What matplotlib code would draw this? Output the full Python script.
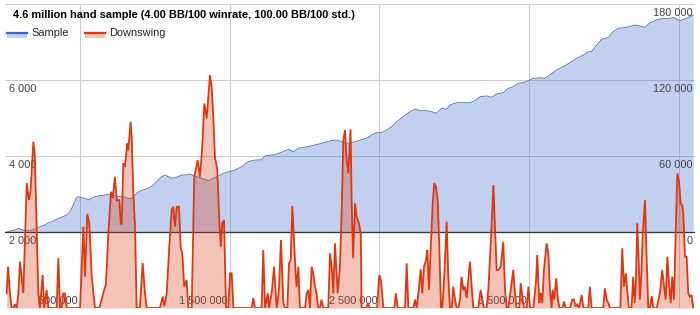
import matplotlib
matplotlib.use("Agg")
import matplotlib.pyplot as plt
from matplotlib.patches import Rectangle
from matplotlib.lines import Line2D

plt.rcParams['font.family'] = ['Liberation Sans', 'DejaVu Sans']

title = "4.6 million hand sample (4.00 BB/100 winrate, 100.00 BB/100 std.)"

# cumulative winnings (BB) vs hands played (thousands)
sample_k = [10, 65, 88, 132, 177, 210, 232, 266, 288, 311, 333, 355, 388, 411, 433, 455, 473, 488,
            511, 533, 555, 578, 600, 633, 667, 689, 711, 755, 789, 822, 845, 878, 900, 934, 956, 989,
            1012, 1045, 1067, 1090, 1112, 1146, 1179, 1212, 1235, 1268, 1313, 1357, 1390, 1424, 1457,
            1490, 1535, 1580, 1624, 1669, 1713, 1736, 1769, 1803, 1825, 1858, 1891, 1925, 1958, 1991,
            2025, 2069, 2114, 2148, 2181, 2214, 2248, 2292, 2337, 2370, 2415, 2448, 2482, 2515, 2548,
            2582, 2615, 2659, 2704, 2737, 2771, 2816, 2849, 2882, 2916, 2949, 2971, 3016, 3060, 3105,
            3138, 3172, 3216, 3250, 3283, 3327, 3361, 3394, 3428, 3461, 3495, 3528, 3572, 3605, 3639,
            3683, 3728, 3773, 3818, 3862, 3895, 3917, 3951, 3984, 4029, 4062, 4096, 4152, 4207, 4240,
            4274, 4307, 4352, 4396, 4441, 4463, 4508, 4552, 4596]
sample_bb = [0, 1580, 2900, 1030, 1500, 2900, 4200, 5500, 7350, 8100, 9500, 10800, 12100, 13400,
             16000, 21300, 26600, 27900, 27100, 26600, 25300, 26600, 27900, 28700, 29200, 30000,
             29200, 27900, 27900, 26600, 26600, 30500, 32400, 33700, 34500, 37100, 39700, 43700,
             45000, 43700, 42400, 43200, 45000, 45000, 45800, 44000, 42400, 40500, 42400, 44200,
             46300, 47600, 48900, 51600, 55500, 56800, 57000, 60000, 60800, 60800, 62100, 63400,
             65300, 63400, 66100, 66800, 67400, 68700, 70000, 71300, 72100, 72600, 71300, 70000,
             71300, 72600, 74000, 76600, 78400, 78400, 80500, 83100, 87100, 91000, 95000, 96900,
             95800, 95800, 95000, 93700, 97700, 96900, 100300, 102100, 102100, 102100, 103700,
             106800, 107400, 106300, 109000, 110000, 113400, 114700, 117400, 117900, 119500,
             121300, 121800, 121300, 124000, 127900, 130500, 133700, 137100, 139700, 142300,
             142300, 147600, 152100, 153700, 158100, 160800, 161600, 163400, 162600, 161600,
             165200, 167400, 168700, 168700, 169500, 166800, 168700, 171300]

# downswing depth (BB) vs hands played (thousands)
down = [(10, 385), (19, 1087), (32, 385), (43, 0), (55, 0), (65, 100), (77, 0), (88, 385), (99, 1218),
        (110, 800), (121, 395), (144, 3288), (159, 2840), (170, 3100), (188, 4374), (197, 4067),
        (210, 2140), (221, 385), (232, 0), (250, 868), (261, 0), (277, 473), (288, 0), (344, 0),
        (355, 1315), (366, 0), (377, 0), (388, 385), (399, 385), (411, 0), (500, 0), (522, 2140),
        (533, 823), (548, 2472), (562, 2228), (578, 823), (600, 0), (629, 0), (655, 385), (673, 631),
        (689, 1965), (707, 3060), (718, 2885), (733, 3455), (745, 2840), (762, 2840), (772, 2228),
        (778, 2200), (789, 3805), (800, 3717), (816, 4330), (822, 4155), (838, 4900), (845, 4506),
        (856, 3017), (867, 2140), (878, 0), (900, 0), (918, 1183), (934, 385), (945, 0), (1034, 0),
        (1052, 300), (1063, 50), (1079, 385), (1096, 1613), (1112, 2577), (1123, 2665), (1134, 2140),
        (1146, 2665), (1161, 2665), (1172, 1613), (1183, 1438), (1196, 561), (1212, 736), (1223, 0),
        (1246, 0), (1263, 3455), (1286, 3892), (1301, 3455), (1315, 4155), (1330, 5383), (1346, 4990),
        (1368, 6128), (1379, 5820), (1390, 5032), (1401, 3980), (1417, 3630), (1430, 2315),
        (1440, 1613), (1450, 2228), (1462, 2315), (1475, 0), (1490, 0), (1502, 912), (1513, 912),
        (1524, 0), (1647, 0), (1657, 263), (1669, 0), (1713, 0), (1724, 1525), (1736, 0), (1754, 385),
        (1762, 0), (1780, 385), (1796, 1087), (1807, 385), (1814, 0), (1829, 500), (1842, 1788),
        (1858, 130), (1869, 0), (1885, 0), (1896, 1175), (1907, 1260), (1918, 2683), (1929, 1788),
        (1940, 912), (1947, 561), (1958, 1087), (1969, 0), (2003, 0), (2014, 385), (2025, 473),
        (2036, 0), (2047, 1087), (2058, 912), (2069, 561), (2080, 385), (2091, 0), (2102, 0),
        (2113, 220), (2124, 0), (2158, 0), (2170, 1438), (2181, 1087), (2192, 385), (2203, 1700),
        (2221, 385), (2236, 1087), (2248, 2577), (2259, 4418), (2270, 4681), (2281, 3892),
        (2292, 3542), (2307, 4700), (2315, 2665), (2324, 1307), (2337, 2753), (2348, 2400),
        (2363, 2228), (2375, 1965), (2381, 0), (2412, 0), (2423, 130), (2435, 0), (2484, 0),
        (2499, 868), (2510, 736), (2526, 0), (2599, 0), (2610, 385), (2622, 0), (2671, 0),
        (2682, 1175), (2693, 0), (2726, 0), (2738, 220), (2749, 0), (2760, 385), (2776, 1017),
        (2786, 385), (2798, 1087), (2811, 1263), (2820, 1525), (2831, 473), (2842, 1525),
        (2856, 2753), (2866, 3279), (2878, 3190), (2889, 2840), (2900, 1613), (2911, 0), (2920, 0),
        (2933, 823), (2949, 2270), (2960, 823), (2971, 0), (2983, 0), (2993, 561), (3005, 220),
        (3016, 0), (3027, 0), (3038, 220), (3049, 823), (3060, 473), (3071, 561), (3083, 263),
        (3093, 736), (3105, 1218), (3116, 561), (3127, 0), (3160, 0), (3176, 473), (3190, 130),
        (3198, 0), (3216, 0), (3227, 473), (3238, 1263), (3250, 2228), (3261, 3235), (3272, 2140),
        (3283, 1000), (3294, 1000), (3310, 1087), (3327, 1745), (3339, 473), (3350, 0), (3361, 0),
        (3377, 473), (3394, 1000), (3405, 385), (3416, 0), (3434, 0), (3444, 650), (3457, 220),
        (3466, 0), (3484, 0), (3495, 561), (3506, 0), (3528, 0), (3546, 700), (3554, 1394),
        (3568, 130), (3577, 400), (3588, 130), (3599, 1000), (3617, 1700), (3628, 1440), (3639, 480),
        (3650, 0), (3657, 480), (3668, 220), (3681, 780), (3692, 220), (3703, 0), (3724, 0),
        (3733, 170), (3744, 0), (3773, 0), (3788, 220), (3800, 220), (3810, 40), (3821, 90),
        (3834, 0), (3851, 342), (3862, 0), (3895, 0), (3906, 561), (3917, 0), (3995, 0), (4006, 518),
        (4018, 220), (4029, 130), (4040, 0), (4109, 0), (4122, 1570), (4133, 561), (4146, 912),
        (4155, 480), (4166, 0), (4184, 0), (4195, 823), (4205, 130), (4213, 660), (4222, 2228),
        (4231, 1350), (4240, 220), (4250, 912), (4259, 1960), (4274, 2840), (4285, 1270), (4296, 0),
        (4307, 0), (4319, 310), (4329, 0), (4352, 0), (4374, 400), (4389, 1000), (4401, 570),
        (4412, 220), (4423, 1350), (4434, 660), (4446, 130), (4456, 823), (4468, 220), (4479, 2000),
        (4490, 3542), (4501, 3330), (4512, 2753), (4523, 2700), (4530, 2490), (4541, 1350),
        (4552, 1350), (4563, 385), (4574, 300), (4585, 340), (4596, 0)]
down_k = [d[0] for d in down]
down_bb = [d[1] for d in down]

x_ticks = [500000, 1500000, 2500000, 3500000]
x_grid = [500000, 1500000, 2500000, 3500000, 4500000]
left_ticks = [2000, 4000, 6000]
right_ticks = [0, 60000, 120000, 180000]

blue = '#3366cc'
red = '#dc3912'
txt = '#444444'
fs = 7.9


def fmt(v):
    return f"{v:,}".replace(',', ' ')


fig = plt.figure(figsize=(7, 3.15), dpi=100)
ax = fig.add_axes([5.2 / 700, 7 / 315, 689.8 / 700, 304 / 315])
ax.set_xlim(0, 4.608e6)
ax.set_ylim(-60000, 180000)
axd = ax.twinx()
axd.set_ylim(0, 8000)
for a in (ax, axd):
    for s in a.spines.values():
        s.set_visible(False)
    a.set_xticks([])
    a.set_yticks([])

# grid
for v in right_ticks[1:]:
    ax.axhline(v, color='#cccccc', lw=0.75, zorder=0)
ax.axhline(-60000, color='#999999', lw=0.75, zorder=0)
for x in x_grid:
    ax.axvline(x, color='#cccccc', lw=0.75, zorder=0)

sx = [k * 1000 for k in sample_k]
ax.fill_between(sx, sample_bb, 0, color=blue, alpha=0.3, lw=0, zorder=1)
ax.plot(sx, sample_bb, color='#4f6aa8', lw=0.6, zorder=2)
ax.axhline(0, color='#333333', lw=0.9, zorder=3)

dx = [k * 1000 for k in down_k]
axd.fill_between(dx, down_bb, 0, color=red, alpha=0.3, lw=0)
axd.plot(dx, down_bb, color=red, lw=1.3, solid_joinstyle='miter')

# axis labels drawn inside the plot
for v in left_ticks:
    ax.annotate(fmt(v), xy=(0, v / 8000 * 240000 - 60000), xycoords=ax.get_yaxis_transform(),
                xytext=(4, -9), textcoords='offset pixels', ha='left', va='center',
                fontsize=fs, color=txt, zorder=4)
for v in right_ticks:
    ax.annotate(fmt(v), xy=(1, v), xycoords=ax.get_yaxis_transform(),
                xytext=(-2, -9), textcoords='offset pixels', ha='right', va='center',
                fontsize=fs, color=txt, zorder=4)
for x in x_ticks:
    ax.annotate(fmt(x), xy=(x, 0), xycoords=ax.get_xaxis_transform(),
                xytext=(-2, 7), textcoords='offset pixels', ha='right', va='center',
                fontsize=fs, color=txt, zorder=4)

# title and legend
fig.text(13 / 700, 1 - 15.5 / 315, title, fontsize=fs, fontweight='bold', color='#000000',
         ha='left', va='center')
for x0, c, lab in [(7, blue, 'Sample'), (85, red, 'Downswing')]:
    fig.add_artist(Rectangle((x0 / 700, 1 - 38 / 315), 20 / 700, 5 / 315,
                             transform=fig.transFigure, facecolor=c, alpha=0.3, lw=0))
    fig.add_artist(Line2D([x0 / 700, (x0 + 20) / 700], [1 - 33 / 315] * 2,
                          transform=fig.transFigure, color=c, lw=1.6))
    fig.text((x0 + 24) / 700, 1 - 33 / 315, lab, fontsize=fs, color='#222222',
             ha='left', va='center')

fig.savefig('out.png', dpi=100, facecolor='white')
